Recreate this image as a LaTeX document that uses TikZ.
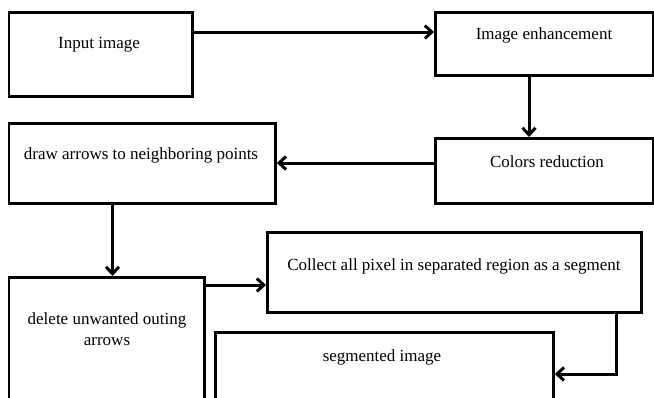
\documentclass[tikz,border=0pt]{standalone}
\usepackage{fontspec}
\setmainfont{Liberation Serif}
\usetikzlibrary{arrows.meta}
\begin{document}
\begin{tikzpicture}[x=1pt,y=-1pt,
  box/.style={draw=black, line width=2.8pt, fill=none, inner sep=0pt, anchor=north west},
  lbl/.style={font=\fontsize{17}{21}\selectfont, align=center, inner sep=0pt},
  conn/.style={line width=3pt, -{Straight Barb[length=7pt,width=13pt,line width=3pt]}}]
\useasboundingbox (0,0) rectangle (654,397);
\clip (0,0) rectangle (654,397);
% boxes
\node[box, minimum width=183.5pt, minimum height=84pt] (b1) at (7.5,11) {};
\node[box, minimum width=218pt, minimum height=63pt] (b2) at (434,11) {};
\node[box, minimum width=218pt, minimum height=65pt] (b3) at (434,137) {};
\node[box, minimum width=266.5pt, minimum height=80pt] (b4) at (7.5,122) {};
\node[box, minimum width=195.5pt, minimum height=130pt] (b5) at (7.5,276) {};
\node[box, minimum width=374pt, minimum height=80pt] (b6) at (266,231) {};
\node[box, minimum width=338pt, minimum height=75pt] (b7) at (214,331) {};
% texts
\node[lbl] (t1) at (99,45) {Input image};
\node[lbl] (t2) at (544,35) {Image enhancement};
\node[lbl] (t3) at (547,162) {Colors reduction};
\node[lbl] (t4) at (141,155) {draw arrows to neighboring points};
\node[lbl] (t5) at (107,329) {delete unwanted outing\\arrows};
\node[lbl] (t6) at (454,266) {Collect all pixel in separated region as a segment};
\node[lbl] (t7) at (382,357) {segmented image};
% connectors
\draw[conn] (b1.east |- 0,32) -- (b2.west |- 0,32);
\draw[conn] (b2.south -| 529,0) -- (b3.north -| 529,0);
\draw[conn] (b3.west |- 0,163) -- (b4.east |- 0,163);
\draw[conn] (b4.south -| 112.5,0) -- (b5.north -| 112.5,0);
\draw[conn] (b5.east |- 0,285) -- (b6.west |- 0,285);
\draw[conn] (b6.south -| 616,0) |- (b7.east |- 0,374);
\end{tikzpicture}
\end{document}
